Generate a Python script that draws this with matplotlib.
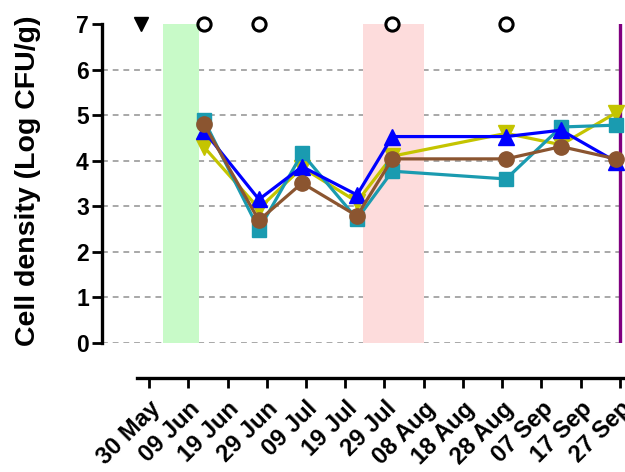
import matplotlib
matplotlib.use('Agg')
import matplotlib.pyplot as plt

plt.rcParams['font.family'] = ['Liberation Sans', 'DejaVu Sans']
plt.rcParams['font.weight'] = 'bold'

# days after 30 May
sampleDays = [14, 28, 39, 53, 62, 91, 105, 119]
blueValues = [4.65, 3.15, 3.87, 3.25, 4.53, 4.53, 4.67, 3.98]
yellowValues = [4.3, 2.95, 3.85, 3.1, 4.1, 4.6, 4.35, 5.05]
tealValues = [4.89, 2.49, 4.16, 2.72, 3.77, 3.6, 4.74, 4.78]
brownValues = [4.8, 2.69, 3.51, 2.79, 4.04, 4.04, 4.31, 4.04]

tickDays = [0, 10, 20, 30, 40, 50, 60, 70, 80, 90, 100, 110, 120]
tickLabels = ['30 May', '09 Jun', '19 Jun', '29 Jun', '09 Jul', '19 Jul', '29 Jul',
              '08 Aug', '18 Aug', '28 Aug', '07 Sep', '17 Sep', '27 Sep']

triangleDays = [-2]
circleDays = [14, 28, 62, 91]

greenBand = (3.5, 12.7)
pinkBand = (54.5, 70)
purpleDay = 120

fig = plt.figure(figsize=(6.25, 4.72), dpi=100)
ax = fig.add_axes([102 / 625, 129 / 472, 523 / 625, 319 / 472])

ax.set_xlim(-12, 121.3)
ax.set_ylim(0, 7)

# dashed grid lines
for y in range(0, 7):
    ax.axhline(y, color='#a8a8a8', linestyle=(0, (3, 2.5)), linewidth=1.4, zorder=1)

ax.axvspan(greenBand[0], greenBand[1], ymin=0, ymax=1, color='#c8fac8', zorder=2, linewidth=0)
ax.axvspan(pinkBand[0], pinkBand[1], ymin=0, ymax=1, color='#fddcdc', zorder=2, linewidth=0)
ax.axvline(purpleDay, color='#800080', linewidth=2.4, zorder=3)

ax.plot(sampleDays, yellowValues, color='#c4c400', marker='v', markersize=11, linewidth=2.3, zorder=4)
ax.plot(sampleDays, tealValues, color='#1a9bb0', marker='s', markersize=10.5, linewidth=2.3, zorder=5)
ax.plot(sampleDays, blueValues, color='#0000ff', marker='^', markersize=11, linewidth=2.3, zorder=6)
ax.plot(sampleDays, brownValues, color='#8b5530', marker='o', markersize=11, linewidth=2.3, zorder=7)

ax.plot(triangleDays, [7] * len(triangleDays), 'v', color='black', markersize=9.5, clip_on=False, zorder=8)
ax.plot(circleDays, [7] * len(circleDays), 'o', markerfacecolor='white', markeredgecolor='black',
        markeredgewidth=2.2, markersize=9.5, clip_on=False, zorder=8)

for side in ['top', 'right']:
    ax.spines[side].set_visible(False)
ax.spines['left'].set_linewidth(2.4)
ax.spines['bottom'].set_linewidth(2.4)
ax.spines['bottom'].set_position(('outward', 25))
ax.spines['bottom'].set_bounds(-3, 121.3)

ax.set_yticks(range(0, 8))
ax.set_xticks(tickDays)
ax.set_xticklabels(tickLabels, rotation=45, ha='right', rotation_mode='anchor')
ax.tick_params(axis='y', width=2, length=7.5, labelsize=16.5, pad=2)
ax.tick_params(axis='x', width=2, length=7, labelsize=17, pad=7)
for lbl in ax.get_yticklabels() + ax.get_xticklabels():
    lbl.set_fontweight('bold')

fig.text(28 / 625, 1 - 181 / 472, 'Cell density (Log CFU/g)', rotation=90,
         ha='center', va='center', fontsize=20.5, fontweight='bold')

plt.savefig('out.png', dpi=100)
